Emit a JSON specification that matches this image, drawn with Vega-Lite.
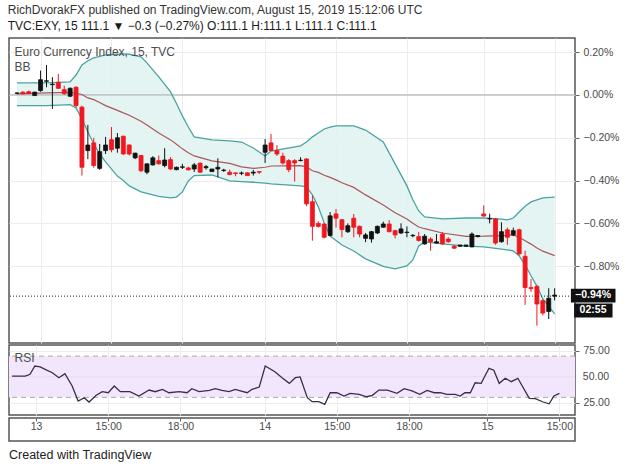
{
  "$schema": "https://vega.github.io/schema/vega-lite/v6.json",
  "background": "white",
  "padding": {"left": 7, "top": 4, "right": 2, "bottom": 4},
  "title": {
    "text": "RichDvorakFX published on TradingView.com, August 15, 2019 15:12:06 UTC",
    "subtitle": "TVC:EXY, 15  111.1 ▼ −0.3 (−0.27%)  O:111.1  H:111.1  L:111.1  C:111.1",
    "anchor": "start",
    "fontSize": 12,
    "fontWeight": "normal",
    "color": "#333333",
    "subtitleFontSize": 12,
    "subtitleColor": "#1a1a1a",
    "subtitlePadding": 4,
    "offset": 4
  },
  "datasets": {
    "candles": [
      {"i": 0, "o": 0.008, "h": 0.012, "l": 0.003, "c": 0.009},
      {"i": 1, "o": 0.013, "h": 0.017, "l": 0.003, "c": 0.005},
      {"i": 2, "o": 0.015, "h": 0.02, "l": 0.004, "c": 0.006},
      {"i": 3, "o": -0.003, "h": 0.015, "l": -0.005, "c": 0.013},
      {"i": 4, "o": 0.02, "h": 0.114, "l": 0.015, "c": 0.071},
      {"i": 5, "o": 0.064, "h": 0.14, "l": 0.036, "c": 0.066},
      {"i": 6, "o": 0.048, "h": 0.083, "l": -0.065, "c": 0.05},
      {"i": 7, "o": 0.059, "h": 0.098, "l": 0.028, "c": 0.031},
      {"i": 8, "o": 0.025, "h": 0.043, "l": 0, "c": 0.006},
      {"i": 9, "o": -0.006, "h": 0.035, "l": -0.01, "c": 0.031},
      {"i": 10, "o": 0.036, "h": 0.04, "l": -0.06, "c": -0.05},
      {"i": 11, "o": -0.057, "h": -0.05, "l": -0.377, "c": -0.338},
      {"i": 12, "o": -0.26, "h": -0.14, "l": -0.3, "c": -0.234},
      {"i": 13, "o": -0.224, "h": -0.2, "l": -0.34, "c": -0.33},
      {"i": 14, "o": -0.343, "h": -0.229, "l": -0.35, "c": -0.265},
      {"i": 15, "o": -0.26, "h": -0.196, "l": -0.276, "c": -0.234},
      {"i": 16, "o": -0.209, "h": -0.15, "l": -0.268, "c": -0.256},
      {"i": 17, "o": -0.249, "h": -0.178, "l": -0.27, "c": -0.2},
      {"i": 18, "o": -0.193, "h": -0.19, "l": -0.28, "c": -0.276},
      {"i": 19, "o": -0.234, "h": -0.23, "l": -0.283, "c": -0.276},
      {"i": 20, "o": -0.294, "h": -0.27, "l": -0.3, "c": -0.272},
      {"i": 21, "o": -0.283, "h": -0.28, "l": -0.361, "c": -0.354},
      {"i": 22, "o": -0.361, "h": -0.32, "l": -0.37, "c": -0.322},
      {"i": 23, "o": -0.327, "h": -0.286, "l": -0.33, "c": -0.294},
      {"i": 24, "o": -0.307, "h": -0.283, "l": -0.325, "c": -0.322},
      {"i": 25, "o": -0.33, "h": -0.249, "l": -0.338, "c": -0.304},
      {"i": 26, "o": -0.302, "h": -0.29, "l": -0.35, "c": -0.346},
      {"i": 27, "o": -0.349, "h": -0.335, "l": -0.352, "c": -0.338},
      {"i": 28, "o": -0.338, "h": -0.322, "l": -0.346, "c": -0.336},
      {"i": 29, "o": -0.341, "h": -0.336, "l": -0.352, "c": -0.35},
      {"i": 30, "o": -0.346, "h": -0.318, "l": -0.36, "c": -0.327},
      {"i": 31, "o": -0.319, "h": -0.315, "l": -0.365, "c": -0.361},
      {"i": 32, "o": -0.34, "h": -0.327, "l": -0.349, "c": -0.335},
      {"i": 33, "o": -0.358, "h": -0.35, "l": -0.36, "c": -0.346},
      {"i": 34, "o": -0.346, "h": -0.296, "l": -0.385, "c": -0.338},
      {"i": 35, "o": -0.353, "h": -0.345, "l": -0.36, "c": -0.351},
      {"i": 36, "o": -0.361, "h": -0.349, "l": -0.375, "c": -0.372},
      {"i": 37, "o": -0.364, "h": -0.364, "l": -0.38, "c": -0.367},
      {"i": 38, "o": -0.366, "h": -0.358, "l": -0.375, "c": -0.365},
      {"i": 39, "o": -0.364, "h": -0.362, "l": -0.378, "c": -0.377},
      {"i": 40, "o": -0.365, "h": -0.35, "l": -0.377, "c": -0.361},
      {"i": 41, "o": -0.358, "h": -0.358, "l": -0.37, "c": -0.361},
      {"i": 42, "o": -0.268, "h": -0.206, "l": -0.318, "c": -0.234},
      {"i": 43, "o": -0.224, "h": -0.182, "l": -0.262, "c": -0.26},
      {"i": 44, "o": -0.26, "h": -0.234, "l": -0.285, "c": -0.276},
      {"i": 45, "o": -0.286, "h": -0.27, "l": -0.325, "c": -0.318},
      {"i": 46, "o": -0.307, "h": -0.3, "l": -0.361, "c": -0.349},
      {"i": 47, "o": -0.307, "h": -0.3, "l": -0.405, "c": -0.318},
      {"i": 48, "o": -0.307, "h": -0.291, "l": -0.31, "c": -0.305},
      {"i": 49, "o": -0.299, "h": -0.296, "l": -0.52, "c": -0.509},
      {"i": 50, "o": -0.499, "h": -0.47, "l": -0.681, "c": -0.614},
      {"i": 51, "o": -0.6, "h": -0.59, "l": -0.62, "c": -0.614},
      {"i": 52, "o": -0.603, "h": -0.6, "l": -0.67, "c": -0.665},
      {"i": 53, "o": -0.657, "h": -0.547, "l": -0.66, "c": -0.565},
      {"i": 54, "o": -0.556, "h": -0.533, "l": -0.62, "c": -0.576},
      {"i": 55, "o": -0.583, "h": -0.58, "l": -0.665, "c": -0.629},
      {"i": 56, "o": -0.639, "h": -0.6, "l": -0.645, "c": -0.611},
      {"i": 57, "o": -0.576, "h": -0.556, "l": -0.665, "c": -0.618},
      {"i": 58, "o": -0.614, "h": -0.61, "l": -0.665, "c": -0.65},
      {"i": 59, "o": -0.67, "h": -0.645, "l": -0.688, "c": -0.654},
      {"i": 60, "o": -0.673, "h": -0.635, "l": -0.69, "c": -0.639},
      {"i": 61, "o": -0.645, "h": -0.61, "l": -0.65, "c": -0.614},
      {"i": 62, "o": -0.618, "h": -0.592, "l": -0.62, "c": -0.603},
      {"i": 63, "o": -0.603, "h": -0.585, "l": -0.642, "c": -0.639},
      {"i": 64, "o": -0.634, "h": -0.63, "l": -0.67, "c": -0.654},
      {"i": 65, "o": -0.645, "h": -0.6, "l": -0.65, "c": -0.626},
      {"i": 66, "o": -0.643, "h": -0.614, "l": -0.665, "c": -0.641},
      {"i": 67, "o": -0.658, "h": -0.65, "l": -0.665, "c": -0.656},
      {"i": 68, "o": -0.662, "h": -0.64, "l": -0.685, "c": -0.68},
      {"i": 69, "o": -0.696, "h": -0.65, "l": -0.7, "c": -0.66},
      {"i": 70, "o": -0.673, "h": -0.665, "l": -0.728, "c": -0.686},
      {"i": 71, "o": -0.692, "h": -0.65, "l": -0.695, "c": -0.686},
      {"i": 72, "o": -0.65, "h": -0.64, "l": -0.7, "c": -0.696},
      {"i": 73, "o": -0.673, "h": -0.665, "l": -0.69, "c": -0.686},
      {"i": 74, "o": -0.707, "h": -0.7, "l": -0.72, "c": -0.716},
      {"i": 75, "o": -0.707, "h": -0.703, "l": -0.71, "c": -0.701},
      {"i": 76, "o": -0.707, "h": -0.702, "l": -0.71, "c": -0.701},
      {"i": 77, "o": -0.71, "h": -0.642, "l": -0.712, "c": -0.65},
      {"i": 78, "o": -0.662, "h": -0.655, "l": -0.665, "c": -0.657},
      {"i": 79, "o": -0.556, "h": -0.516, "l": -0.568, "c": -0.566},
      {"i": 80, "o": -0.579, "h": -0.555, "l": -0.6, "c": -0.578},
      {"i": 81, "o": -0.579, "h": -0.575, "l": -0.7, "c": -0.692},
      {"i": 82, "o": -0.686, "h": -0.595, "l": -0.69, "c": -0.639},
      {"i": 83, "o": -0.63, "h": -0.62, "l": -0.7, "c": -0.665},
      {"i": 84, "o": -0.654, "h": -0.62, "l": -0.66, "c": -0.634},
      {"i": 85, "o": -0.63, "h": -0.625, "l": -0.75, "c": -0.743},
      {"i": 86, "o": -0.754, "h": -0.728, "l": -0.981, "c": -0.9},
      {"i": 87, "o": -0.9, "h": -0.86, "l": -0.92, "c": -0.905},
      {"i": 88, "o": -0.894, "h": -0.89, "l": -1.078, "c": -0.977},
      {"i": 89, "o": -0.961, "h": -0.955, "l": -1.03, "c": -1.019},
      {"i": 90, "o": -1.012, "h": -0.903, "l": -1.047, "c": -0.95},
      {"i": 91, "o": -0.94, "h": -0.903, "l": -0.96, "c": -0.935}
    ],
    "bands": [
      {"i": 0, "u": 0.056, "m": 0.005, "lo": -0.05},
      {"i": 5, "u": 0.056, "m": 0.01, "lo": -0.05},
      {"i": 9, "u": 0.061, "m": 0.012, "lo": -0.045},
      {"i": 10, "u": 0.093, "m": 0.008, "lo": -0.061},
      {"i": 11, "u": 0.14, "m": 0.002, "lo": -0.112},
      {"i": 12, "u": 0.16, "m": -0.014, "lo": -0.173},
      {"i": 13, "u": 0.173, "m": -0.022, "lo": -0.229},
      {"i": 14, "u": 0.18, "m": -0.035, "lo": -0.276},
      {"i": 15, "u": 0.187, "m": -0.05, "lo": -0.313},
      {"i": 17, "u": 0.19, "m": -0.072, "lo": -0.379},
      {"i": 18, "u": 0.192, "m": -0.084, "lo": -0.4},
      {"i": 19, "u": 0.19, "m": -0.095, "lo": -0.425},
      {"i": 21, "u": 0.178, "m": -0.123, "lo": -0.453},
      {"i": 22, "u": 0.15, "m": -0.14, "lo": -0.46},
      {"i": 24, "u": 0.084, "m": -0.178, "lo": -0.474},
      {"i": 26, "u": 0.014, "m": -0.21, "lo": -0.481},
      {"i": 27, "u": -0.04, "m": -0.23, "lo": -0.477},
      {"i": 28, "u": -0.098, "m": -0.252, "lo": -0.453},
      {"i": 29, "u": -0.15, "m": -0.27, "lo": -0.402},
      {"i": 30, "u": -0.196, "m": -0.285, "lo": -0.377},
      {"i": 33, "u": -0.21, "m": -0.308, "lo": -0.374},
      {"i": 36, "u": -0.215, "m": -0.32, "lo": -0.402},
      {"i": 38, "u": -0.22, "m": -0.336, "lo": -0.405},
      {"i": 40, "u": -0.248, "m": -0.343, "lo": -0.408},
      {"i": 42, "u": -0.285, "m": -0.338, "lo": -0.412},
      {"i": 43, "u": -0.262, "m": -0.332, "lo": -0.416},
      {"i": 48, "u": -0.238, "m": -0.33, "lo": -0.425},
      {"i": 49, "u": -0.22, "m": -0.336, "lo": -0.43},
      {"i": 50, "u": -0.196, "m": -0.354, "lo": -0.467},
      {"i": 51, "u": -0.178, "m": -0.362, "lo": -0.523},
      {"i": 52, "u": -0.159, "m": -0.375, "lo": -0.598},
      {"i": 53, "u": -0.15, "m": -0.385, "lo": -0.659},
      {"i": 54, "u": -0.145, "m": -0.397, "lo": -0.68},
      {"i": 55, "u": -0.145, "m": -0.41, "lo": -0.701},
      {"i": 57, "u": -0.145, "m": -0.432, "lo": -0.729},
      {"i": 59, "u": -0.164, "m": -0.467, "lo": -0.766},
      {"i": 62, "u": -0.22, "m": -0.514, "lo": -0.801},
      {"i": 64, "u": -0.322, "m": -0.55, "lo": -0.813},
      {"i": 66, "u": -0.425, "m": -0.58, "lo": -0.799},
      {"i": 67, "u": -0.49, "m": -0.6, "lo": -0.771},
      {"i": 68, "u": -0.542, "m": -0.617, "lo": -0.706},
      {"i": 69, "u": -0.57, "m": -0.625, "lo": -0.687},
      {"i": 72, "u": -0.579, "m": -0.645, "lo": -0.696},
      {"i": 76, "u": -0.575, "m": -0.661, "lo": -0.706},
      {"i": 79, "u": -0.575, "m": -0.66, "lo": -0.71},
      {"i": 82, "u": -0.58, "m": -0.657, "lo": -0.72},
      {"i": 83, "u": -0.584, "m": -0.656, "lo": -0.724},
      {"i": 84, "u": -0.575, "m": -0.654, "lo": -0.729},
      {"i": 85, "u": -0.547, "m": -0.665, "lo": -0.752},
      {"i": 86, "u": -0.52, "m": -0.681, "lo": -0.794},
      {"i": 87, "u": -0.5, "m": -0.697, "lo": -0.845},
      {"i": 88, "u": -0.49, "m": -0.715, "lo": -0.893},
      {"i": 89, "u": -0.481, "m": -0.73, "lo": -0.953},
      {"i": 91, "u": -0.477, "m": -0.751, "lo": -1.023}
    ],
    "rsi": [
      {"i": 0, "r": 50.7}, {"i": 2.2, "r": 50.7}, {"i": 3, "r": 52.4}, {"i": 3.8, "r": 60.4},
      {"i": 4.7, "r": 59.5}, {"i": 5.5, "r": 57.2}, {"i": 6.7, "r": 53.9}, {"i": 7.8, "r": 49.1},
      {"i": 8.8, "r": 53}, {"i": 10, "r": 41}, {"i": 11, "r": 26.5}, {"i": 12, "r": 29.7},
      {"i": 12.8, "r": 25.5}, {"i": 14, "r": 32}, {"i": 15, "r": 35.5}, {"i": 16, "r": 34.5},
      {"i": 17, "r": 41}, {"i": 18, "r": 35.5}, {"i": 19.6, "r": 35.5}, {"i": 21.1, "r": 31.3},
      {"i": 22.8, "r": 37.1}, {"i": 23.8, "r": 35.5}, {"i": 25, "r": 37.8}, {"i": 26.1, "r": 34.5},
      {"i": 27.8, "r": 35.5}, {"i": 29.1, "r": 34.5}, {"i": 29.9, "r": 38.4}, {"i": 31.1, "r": 35.5},
      {"i": 32.8, "r": 36.8}, {"i": 33.8, "r": 38.4}, {"i": 34.9, "r": 36.8}, {"i": 36.1, "r": 35.5},
      {"i": 37.1, "r": 37.8}, {"i": 39.1, "r": 34.5}, {"i": 39.9, "r": 37.8}, {"i": 41.1, "r": 40},
      {"i": 42.1, "r": 60.4}, {"i": 43.7, "r": 54.9}, {"i": 44.9, "r": 49.1}, {"i": 46.1, "r": 43.6},
      {"i": 47.1, "r": 49.1}, {"i": 47.9, "r": 49.8}, {"i": 49.1, "r": 29.7}, {"i": 49.9, "r": 25.8},
      {"i": 51, "r": 25.8}, {"i": 52, "r": 23.2}, {"i": 52.9, "r": 34.5}, {"i": 54, "r": 34.5},
      {"i": 55.2, "r": 31.3}, {"i": 56.2, "r": 33.9}, {"i": 57.7, "r": 33}, {"i": 59, "r": 30.6},
      {"i": 59.9, "r": 32}, {"i": 61, "r": 37.1}, {"i": 62.4, "r": 37.1}, {"i": 64, "r": 33.9},
      {"i": 65.2, "r": 38.4}, {"i": 66.5, "r": 36.2}, {"i": 67.8, "r": 33}, {"i": 69, "r": 36.8},
      {"i": 70.2, "r": 34.5}, {"i": 71.2, "r": 34.5}, {"i": 72.3, "r": 33}, {"i": 73.7, "r": 33},
      {"i": 74.5, "r": 31.3}, {"i": 75.3, "r": 34.5}, {"i": 76.2, "r": 34.5}, {"i": 77, "r": 44.2},
      {"i": 78, "r": 43.6}, {"i": 79.3, "r": 58.2}, {"i": 80.1, "r": 56.3}, {"i": 81, "r": 43.6},
      {"i": 82, "r": 48.5}, {"i": 83, "r": 45.2}, {"i": 84.1, "r": 48.5}, {"i": 86, "r": 29.1},
      {"i": 87, "r": 28.7}, {"i": 88.3, "r": 25.5}, {"i": 89.3, "r": 23.8}, {"i": 90.1, "r": 31.3},
      {"i": 91, "r": 33.9}
    ]
  },
  "spacing": 0,
  "resolve": {"scale": {"x": "independent", "y": "independent"}},
  "vconcat": [
    {
      "width": 566,
      "height": 305,
      "title": {
        "text": "Euro Currency Index, 15, TVC",
        "subtitle": "BB",
        "anchor": "start",
        "dx": 6,
        "offset": -36,
        "fontSize": 12,
        "fontWeight": "normal",
        "color": "#4d4d4d",
        "subtitleFontSize": 12,
        "subtitleColor": "#4d4d4d",
        "subtitlePadding": 3
      },
      "layer": [
        {
          "data": {"name": "bands"},
          "mark": {"type": "area", "color": "#e1f3f2", "opacity": 0.9},
          "encoding": {
            "x": {
              "field": "i",
              "type": "quantitative",
              "scale": {"domain": [-0.5, 93.6], "nice": false, "zero": false},
              "axis": {"values": [4, 16, 28, 42, 54, 66, 79, 91], "labels": false, "ticks": false, "domain": false, "grid": true}
            },
            "y": {
              "field": "u",
              "type": "quantitative",
              "scale": {"domain": [-1.159, 0.266], "nice": false, "zero": false},
              "axis": {
                "orient": "right",
                "values": [0.2, 0, -0.2, -0.4, -0.6, -0.8],
                "labelExpr": "format(datum.value, '.2f') + '%'",
                "grid": true,
                "tickSize": 4,
                "labelPadding": 4,
                "domain": false
              }
            },
            "y2": {"field": "lo"}
          }
        },
        {
          "data": {"values": [{}]},
          "mark": {"type": "rule", "color": "#a8a8a8", "strokeWidth": 1},
          "encoding": {"y": {"datum": 0}}
        },
        {
          "data": {"name": "bands"},
          "mark": {"type": "line", "color": "#4aa3a0", "strokeWidth": 1.3},
          "encoding": {
            "x": {"field": "i", "type": "quantitative"},
            "y": {"field": "u", "type": "quantitative"}
          }
        },
        {
          "data": {"name": "bands"},
          "mark": {"type": "line", "color": "#4aa3a0", "strokeWidth": 1.3},
          "encoding": {
            "x": {"field": "i", "type": "quantitative"},
            "y": {"field": "lo", "type": "quantitative"}
          }
        },
        {
          "data": {"name": "bands"},
          "mark": {"type": "line", "color": "#a8585c", "strokeWidth": 1.2},
          "encoding": {
            "x": {"field": "i", "type": "quantitative"},
            "y": {"field": "m", "type": "quantitative"}
          }
        },
        {
          "data": {"name": "candles"},
          "mark": {"type": "rule", "strokeWidth": 1},
          "encoding": {
            "x": {"field": "i", "type": "quantitative"},
            "y": {"field": "l", "type": "quantitative"},
            "y2": {"field": "h"},
            "color": {"condition": {"test": "datum.c >= datum.o", "value": "#111111"}, "value": "#f0181f"}
          }
        },
        {
          "data": {"name": "candles"},
          "mark": {"type": "bar", "size": 4, "strokeWidth": 0.8},
          "encoding": {
            "x": {"field": "i", "type": "quantitative"},
            "y": {"field": "o", "type": "quantitative"},
            "y2": {"field": "c"},
            "fill": {"condition": {"test": "datum.c >= datum.o", "value": "#111111"}, "value": "#f0181f"},
            "stroke": {"condition": {"test": "datum.c >= datum.o", "value": "#111111"}, "value": "#f0181f"}
          }
        },
        {
          "data": {"values": [{}]},
          "mark": {"type": "rule", "color": "#222222", "strokeWidth": 1, "strokeDash": [1, 2]},
          "encoding": {"y": {"datum": -0.94}}
        },
        {
          "data": {"values": [{}]},
          "mark": {"type": "rect", "color": "#111111", "clip": false},
          "encoding": {
            "x": {"datum": 93.75},
            "x2": {"datum": 101.3},
            "y": {"datum": -0.905},
            "y2": {"datum": -0.97}
          }
        },
        {
          "data": {"values": [{}]},
          "mark": {"type": "text", "color": "white", "fontWeight": "bold", "fontSize": 10.5, "clip": false},
          "encoding": {
            "x": {"datum": 97.5},
            "y": {"datum": -0.937},
            "text": {"value": "−0.94%"}
          }
        },
        {
          "data": {"values": [{}]},
          "mark": {"type": "rect", "color": "#111111", "clip": false},
          "encoding": {
            "x": {"datum": 94.3},
            "x2": {"datum": 100.8},
            "y": {"datum": -0.975},
            "y2": {"datum": -1.04}
          }
        },
        {
          "data": {"values": [{}]},
          "mark": {"type": "text", "color": "white", "fontWeight": "bold", "fontSize": 10.5, "clip": false},
          "encoding": {
            "x": {"datum": 97.5},
            "y": {"datum": -1.007},
            "text": {"value": "02:55"}
          }
        }
      ]
    },
    {
      "width": 566,
      "height": 70,
      "title": {
        "text": "RSI",
        "anchor": "start",
        "dx": 6,
        "offset": -20,
        "fontSize": 12,
        "fontWeight": "normal",
        "color": "#4d4d4d"
      },
      "layer": [
        {
          "data": {"values": [{}]},
          "mark": {"type": "rect", "color": "#f1e6fc"},
          "encoding": {
            "x": {"datum": -0.5, "type": "quantitative"},
            "x2": {"datum": 93.6},
            "y": {"datum": 70, "type": "quantitative"},
            "y2": {"datum": 30}
          }
        },
        {
          "data": {"values": [{}]},
          "mark": {"type": "rule", "color": "#aaaaaa", "strokeWidth": 1, "strokeDash": [5, 4]},
          "encoding": {"y": {"datum": 70, "type": "quantitative"}}
        },
        {
          "data": {"values": [{}]},
          "mark": {"type": "rule", "color": "#aaaaaa", "strokeWidth": 1, "strokeDash": [5, 4]},
          "encoding": {"y": {"datum": 30, "type": "quantitative"}}
        },
        {
          "data": {"values": [{}]},
          "mark": {"type": "rule", "color": "#e4dcec", "strokeWidth": 1},
          "encoding": {"y": {"datum": 50, "type": "quantitative"}}
        },
        {
          "data": {"name": "rsi"},
          "mark": {"type": "line", "color": "#3b2d4a", "strokeWidth": 1.3},
          "encoding": {
            "x": {
              "field": "i",
              "type": "quantitative",
              "scale": {"domain": [-0.5, 93.6], "nice": false, "zero": false},
              "axis": {"values": [4, 16, 28, 42, 54, 66, 79, 91], "labels": false, "ticks": false, "domain": false, "grid": true}
            },
            "y": {
              "field": "r",
              "type": "quantitative",
              "scale": {"domain": [12.9, 80.8], "nice": false, "zero": false},
              "axis": {
                "orient": "right",
                "values": [25, 50, 75],
                "labelExpr": "format(datum.value, '.2f')",
                "grid": true,
                "tickSize": 4,
                "labelPadding": 4,
                "domain": false
              }
            }
          }
        },
        {
          "data": {"values": [{}]},
          "mark": {"type": "text", "align": "left", "baseline": "middle", "fontSize": 10.5, "color": "#4a4a4a", "clip": false},
          "encoding": {
            "x": {"datum": 94.9, "type": "quantitative"},
            "y": {"datum": 50, "type": "quantitative"},
            "text": {"value": "50.00"}
          }
        }
      ]
    },
    {
      "width": 566,
      "height": 23,
      "title": {
        "text": "Created with TradingView",
        "orient": "bottom",
        "anchor": "start",
        "offset": 8,
        "fontSize": 12.5,
        "fontWeight": "normal",
        "color": "#222222"
      },
      "data": {"name": "rsi"},
      "mark": {"type": "tick", "opacity": 0},
      "encoding": {
        "x": {
          "field": "i",
          "type": "quantitative",
          "scale": {"domain": [-0.5, 93.6], "nice": false, "zero": false},
          "axis": {
            "orient": "bottom",
            "offset": -23,
            "values": [4, 16, 28, 42, 54, 66, 79, 91],
            "labelExpr": "datum.value == 4 ? '13' : datum.value == 42 ? '14' : datum.value == 79 ? '15' : (datum.value == 28 || datum.value == 66) ? '18:00' : '15:00'",
            "tickSize": 3,
            "labelPadding": 0,
            "grid": false,
            "domain": false
          }
        }
      }
    }
  ],
  "config": {
    "font": "Liberation Sans, Arial, sans-serif",
    "view": {"stroke": "#555555", "strokeWidth": 1.5},
    "axis": {
      "title": null,
      "gridColor": "#ececec",
      "gridWidth": 1,
      "labelColor": "#4a4a4a",
      "labelFontSize": 10.5,
      "labelOverlap": false,
      "labelBound": false,
      "labelFlush": false,
      "tickColor": "#666666"
    }
  }
}
